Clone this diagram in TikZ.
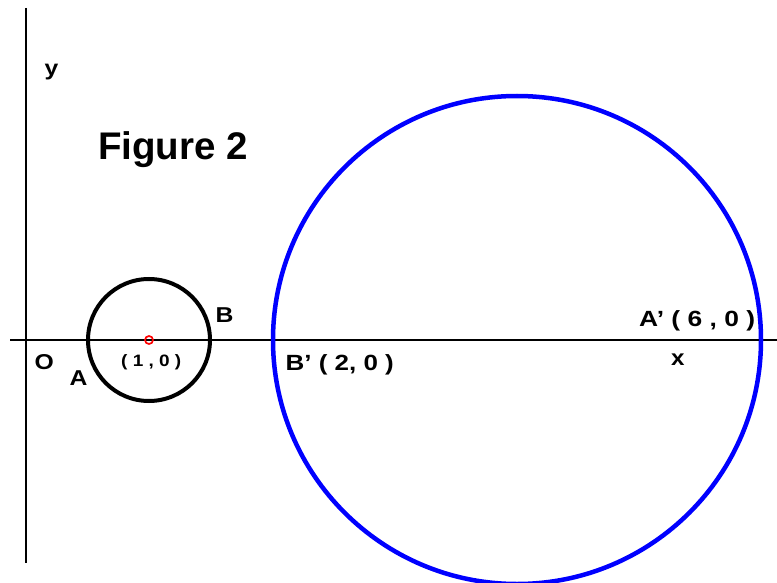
\documentclass[tikz,border=0pt]{standalone}
\usepackage{fontspec}
\setmainfont{Liberation Sans}
\begin{document}
\begin{tikzpicture}[x=1pt,y=-1pt,
  lbl/.style={anchor=base west,inner sep=0pt,font=\bfseries\fontsize{21.5}{24}\selectfont},
  lblb/.style={anchor=base west,inner sep=0pt,font=\bfseries\fontsize{22}{24}\selectfont},
  lbls/.style={anchor=base west,inner sep=0pt,font=\bfseries\fontsize{16.5}{20}\selectfont},
  axis/.style={line width=2.5pt,black},
  blackcirc/.style={line width=4pt,black},
  bluecirc/.style={line width=4.5pt,blue},
  redcirc/.style={line width=1.7pt,red}]
\useasboundingbox (0,0) rectangle (777,583);
\coordinate (ytop) at (26,8);
\coordinate (ybot) at (26,563);
\coordinate (xl) at (10,340);
\coordinate (xr) at (777,340);
\coordinate (c1) at (149,340);
\coordinate (c2) at (517,340);
\draw[axis] (ytop) -- (ybot);
\draw[axis] (xl) -- (xr);
\draw[blackcirc] (c1) circle[radius=61];
\draw[bluecirc] (c2) circle[radius=244];
\draw[redcirc] (c1) circle[radius=4];
\node[lbl] (ly) at (44.5,76) {\scalebox{1.15}[1]{y}};
\node[anchor=base west,inner sep=0pt,font=\bfseries\fontsize{38.5}{44}\selectfont] (fig) at (98,160) {Figure 2};
\node[lbl] (lB) at (215.5,322) {\scalebox{1.15}[1]{B}};
\node[lbl] (lO) at (34.5,369.5) {\scalebox{1.15}[1]{O}};
\node[lbl] (lA) at (69.5,385) {\scalebox{1.15}[1]{A}};
\node[lbls] (lc) at (121,366.5) {\scalebox{1.15}[1]{( 1 , 0 )}};
\node[lblb] (lBp) at (285.5,370) {\scalebox{1.18}[1]{B’ ( 2, 0 )}};
\node[lblb] (lAp) at (639,326.5) {\scalebox{1.2}[1]{A’ ( 6 , 0 )}};
\node[lblb] (lx) at (671,365) {\scalebox{1.1}[1]{x}};
\end{tikzpicture}
\end{document}
